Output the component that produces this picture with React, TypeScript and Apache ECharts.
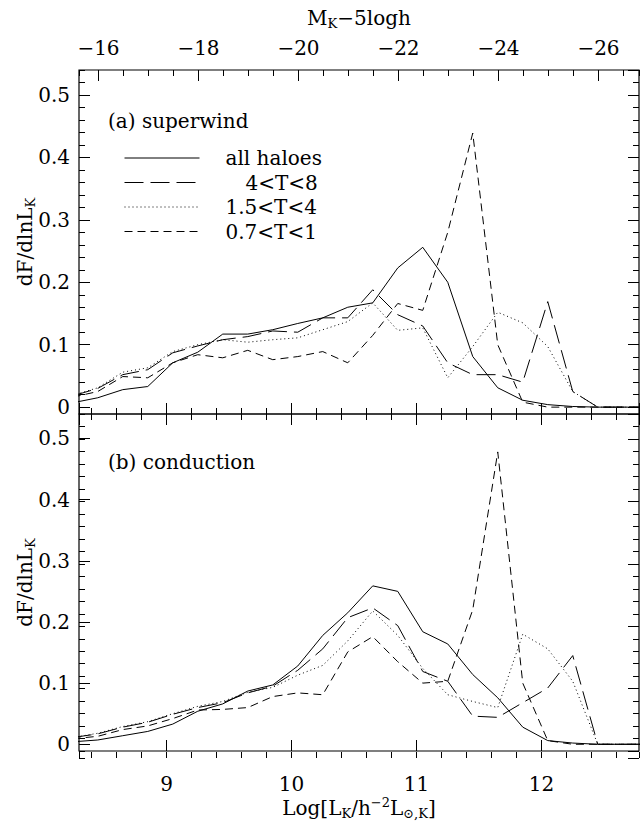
import { useEffect, useRef } from 'react';
import * as echarts from 'echarts';

// Bin centres in log L_K
const LOG_L = [8.25, 8.45, 8.65, 8.85, 9.05, 9.25, 9.45, 9.65, 9.85, 10.05, 10.25, 10.45, 10.65, 10.85, 11.05, 11.25, 11.45, 11.65, 11.85, 12.05, 12.25, 12.45, 12.65, 12.85];

// (a) superwind
const ALL_A = [0.007, 0.015, 0.028, 0.033, 0.071, 0.088, 0.117, 0.117, 0.124, 0.134, 0.143, 0.160, 0.167, 0.223, 0.256, 0.200, 0.081, 0.031, 0.011, 0.004, 0.001, 0, 0, 0];
const T48_A = [0.018, 0.030, 0.052, 0.060, 0.087, 0.098, 0.108, 0.113, 0.122, 0.120, 0.143, 0.143, 0.188, 0.148, 0.130, 0.071, 0.052, 0.052, 0.040, 0.169, 0.025, 0, 0, 0];
const T154_A = [0.019, 0.031, 0.056, 0.063, 0.089, 0.100, 0.108, 0.104, 0.108, 0.111, 0.124, 0.137, 0.167, 0.123, 0.127, 0.047, 0.097, 0.152, 0.135, 0.097, 0.025, 0, 0, 0];
const T071_A = [0.016, 0.025, 0.049, 0.047, 0.071, 0.084, 0.079, 0.091, 0.076, 0.081, 0.089, 0.071, 0.115, 0.166, 0.155, 0.280, 0.439, 0.100, 0.008, 0, 0, 0, 0, 0];

// (b) conduction
const ALL_B = [0.004, 0.007, 0.014, 0.021, 0.033, 0.054, 0.066, 0.087, 0.097, 0.128, 0.178, 0.215, 0.259, 0.250, 0.184, 0.164, 0.114, 0.076, 0.028, 0.006, 0.002, 0, 0, 0];
const T48_B = [0.011, 0.017, 0.028, 0.036, 0.049, 0.060, 0.068, 0.084, 0.095, 0.121, 0.156, 0.207, 0.223, 0.194, 0.119, 0.103, 0.046, 0.044, 0.068, 0.092, 0.145, 0, 0, 0];
const T154_B = [0.011, 0.018, 0.029, 0.037, 0.050, 0.062, 0.070, 0.085, 0.093, 0.113, 0.129, 0.169, 0.218, 0.178, 0.124, 0.081, 0.070, 0.060, 0.180, 0.156, 0.103, 0, 0, 0];
const T071_B = [0.009, 0.013, 0.024, 0.030, 0.042, 0.056, 0.057, 0.060, 0.078, 0.084, 0.081, 0.151, 0.176, 0.135, 0.100, 0.103, 0.220, 0.478, 0.100, 0.006, 0, 0, 0, 0];

const SERIES_NAMES = ['all haloes', '4<T<8', '1.5<T<4', '0.7<T<1'];
const PANEL_LABELS = ['(a) superwind', '(b) conduction'];
const X_RANGE = [8.3, 12.78];
const Y_RANGE = [-0.011, 0.54];
const M_ZERO = 5.14; // M_K - 5logh = M_ZERO - 2.5 log L

const INK = '#000';
const FONT = 'DejaVu Serif';
const FS = 20;

const DASHES: any[] = ['solid', [19, 7], [1, 3], [8, 5]];

const tick = (len: number) => ({ show: true, inside: true, length: len, lineStyle: { color: INK, width: 1 } });
const lbl = (fmt: (v: number) => string, margin: number) => ({
  show: true, fontFamily: FONT, fontSize: FS, color: INK, margin, formatter: fmt,
  showMinLabel: false, showMaxLabel: false,
});
const noLbl = { show: false };

const subRich = {
  n: { fontFamily: FONT, fontSize: FS, color: INK, lineHeight: 24 },
  s: { fontFamily: FONT, fontSize: 13, color: INK, lineHeight: 14, verticalAlign: 'bottom' },
  p: { fontFamily: FONT, fontSize: 13, color: INK, lineHeight: 14, verticalAlign: 'top' },
};

function vAxis(extra: any) {
  return { type: 'value', offset: 0, nameMoveOverlap: false, axisLine: { show: false, onZero: false }, splitLine: { show: false }, ...extra };
}

const fmtL = (v: number) => String(Math.round(v));
const fmtM = (v: number) => '\u2212' + Math.abs(Math.round(v));
const fmtY = (v: number) => (Math.abs(v) < 1e-9 ? '0' : String(+v.toFixed(1)));

export default function App() {
  const ref = useRef<HTMLDivElement>(null);
  useEffect(() => {
    if (!ref.current) return;
    const chart = echarts.init(ref.current, undefined, { renderer: 'svg' });
    const mMin = M_ZERO - 2.5 * X_RANGE[1];
    const mMax = M_ZERO - 2.5 * X_RANGE[0];
    const panelTops = [70, 414];

    const grids: any[] = [];
    const xAxes: any[] = [];
    const yAxes: any[] = [];
    [0, 1].forEach((p) => {
      const base = p * 4;
      for (let k = 0; k < 4; k++) {
        grids.push({
          left: 79, top: panelTops[p], width: 560, height: 344,
          show: k === 0, borderColor: INK, borderWidth: 1.2, backgroundColor: 'transparent',
        });
      }
      const logX = { min: X_RANGE[0], max: X_RANGE[1] };
      const yR = { min: Y_RANGE[0], max: Y_RANGE[1] };
      // grid base+0: bottom major x, left major y (series live here)
      xAxes.push(vAxis({
        ...logX, gridIndex: base, position: 'bottom', minInterval: 1, maxInterval: 1, splitNumber: 5,
        axisTick: tick(11),
        axisLabel: p === 1 ? lbl(fmtL, 23) : noLbl,
        ...(p === 1 ? {
          name: '{n|Log[L}{s|K}{n|/h}{p|\u22122}{n|L}{s|\u2299,K}{n|]}',
          nameLocation: 'middle', nameGap: 45,
          nameTextStyle: { rich: subRich },
        } : {}),
      }));
      yAxes.push(vAxis({
        ...yR, gridIndex: base, position: 'left', minInterval: 0.1, maxInterval: 0.1, splitNumber: 5,
        axisTick: tick(11), axisLabel: lbl(fmtY, 9),
        name: '{n|dF/dlnL}{s|K}', nameLocation: 'middle', nameGap: 42,
        nameTextStyle: { rich: subRich },
      }));
      // grid base+1: bottom minor x, left minor y
      xAxes.push(vAxis({ ...logX, gridIndex: base + 1, position: 'bottom', minInterval: 0.2, maxInterval: 0.2, splitNumber: 22, axisTick: tick(6), axisLabel: noLbl }));
      yAxes.push(vAxis({ ...yR, gridIndex: base + 1, position: 'left', minInterval: 0.02, maxInterval: 0.02, splitNumber: 27, axisTick: tick(6), axisLabel: noLbl }));
      // grid base+2: top major x, right major y
      if (p === 0) {
        xAxes.push(vAxis({
          gridIndex: base + 2, position: 'top', min: mMin, max: mMax, inverse: true,
          minInterval: 2, maxInterval: 2, splitNumber: 6, axisTick: tick(11),
          axisLabel: lbl(fmtM, 12),
          name: '{n|M}{s|K}{n|\u22125logh}', nameLocation: 'middle', nameGap: 40,
          nameTextStyle: { rich: subRich },
        }));
      } else {
        xAxes.push(vAxis({ ...logX, gridIndex: base + 2, position: 'top', minInterval: 1, maxInterval: 1, splitNumber: 5, axisTick: tick(11), axisLabel: noLbl }));
      }
      yAxes.push(vAxis({ ...yR, gridIndex: base + 2, position: 'right', minInterval: 0.1, maxInterval: 0.1, splitNumber: 5, axisTick: tick(11), axisLabel: noLbl }));
      // grid base+3: top minor x, right minor y
      if (p === 0) {
        xAxes.push(vAxis({
          gridIndex: base + 3, position: 'top', min: mMin, max: mMax, inverse: true,
          minInterval: 0.5, maxInterval: 0.5, splitNumber: 22, axisTick: tick(6), axisLabel: noLbl,
        }));
      } else {
        xAxes.push(vAxis({ ...logX, gridIndex: base + 3, position: 'top', minInterval: 0.2, maxInterval: 0.2, splitNumber: 22, axisTick: tick(6), axisLabel: noLbl }));
      }
      yAxes.push(vAxis({ ...yR, gridIndex: base + 3, position: 'right', minInterval: 0.02, maxInterval: 0.02, splitNumber: 27, axisTick: tick(6), axisLabel: noLbl }));
    });

    const panelData = [
      [ALL_A, T48_A, T154_A, T071_A],
      [ALL_B, T48_B, T154_B, T071_B],
    ];
    const series: any[] = [];
    panelData.forEach((sets, p) => {
      sets.forEach((vals, i) => {
        series.push({
          type: 'line', name: SERIES_NAMES[i], xAxisIndex: p * 4, yAxisIndex: p * 4,
          data: LOG_L.map((x, k) => [x, vals[k]]),
          symbol: 'none', showSymbol: false, silent: true, clip: true,
          lineStyle: { color: INK, width: 1, type: DASHES[i] },
          itemStyle: { color: INK },
        });
      });
    });

    const legendRich = {
      t: { fontFamily: FONT, fontSize: FS, color: INK, lineHeight: 20, padding: [0, 0, 0, 21] },
      i: { fontFamily: FONT, fontSize: FS, color: INK, lineHeight: 20, padding: [0, 0, 0, 41] },
    };

    chart.setOption({
      animation: false,
      backgroundColor: '#fff',
      grid: grids,
      xAxis: xAxes,
      yAxis: yAxes,
      legend: {
        data: SERIES_NAMES, orient: 'vertical', left: 124, top: 148, padding: 0,
        itemWidth: 75, itemHeight: 14, itemGap: 4.5, selectedMode: false,
        lineStyle: { width: 1 },
        itemStyle: { color: 'rgba(0,0,0,0)', borderWidth: 0, opacity: 0 },
        formatter: (name: string) => (name === '4<T<8' ? `{i|${name}}` : `{t|${name}}`),
        textStyle: { fontFamily: FONT, fontSize: FS, color: INK, rich: legendRich },
      },
      graphic: [
        { type: 'text', left: 108, top: 111, style: { text: PANEL_LABELS[0], fontFamily: FONT, fontSize: FS, fill: INK } },
        { type: 'text', left: 108, top: 452, style: { text: PANEL_LABELS[1], fontFamily: FONT, fontSize: FS, fill: INK } },
      ],
      series,
    });
    return () => chart.dispose();
  }, []);
  return <div ref={ref} style={{ position: 'fixed', left: 0, top: 0, width: 640, height: 821, background: '#fff' }} />;
}
